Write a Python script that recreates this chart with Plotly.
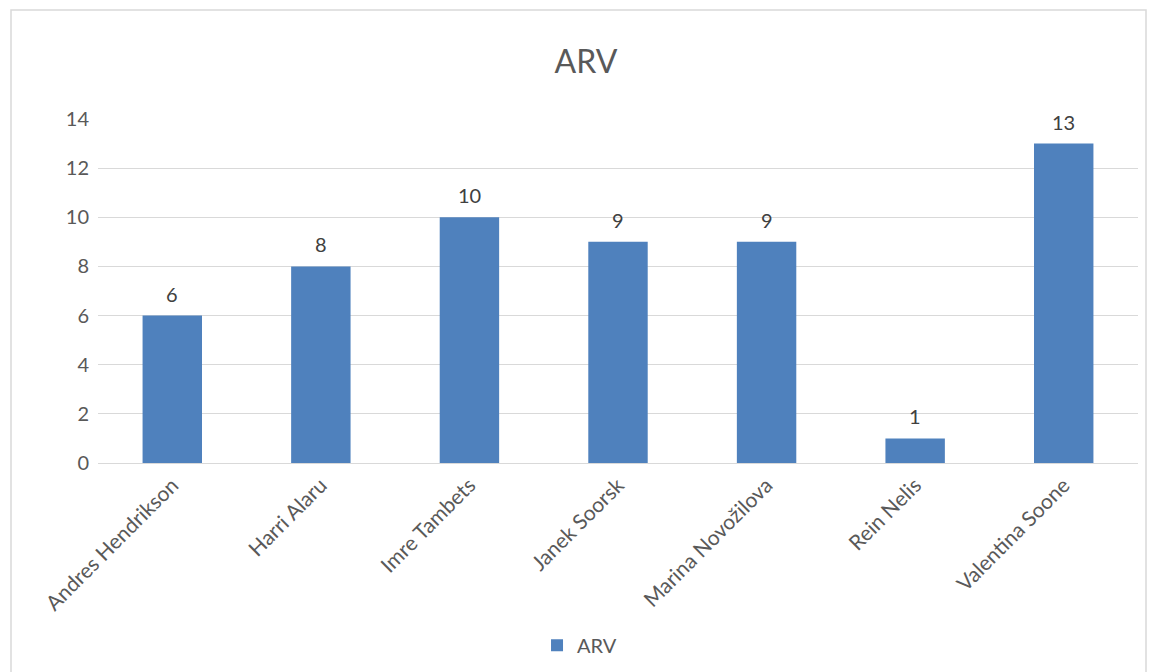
import plotly.graph_objects as go

categories = ["Andres Hendrikson", "Harri Alaru", "Imre Tambets", "Janek Soorsk",
              "Marina Novožilova", "Rein Nelis", "Valentina Soone"]
values = [6, 8, 10, 9, 9, 1, 13]
tick_vals = [0, 2, 4, 6, 8, 10, 12, 14]

FONT = "Lato, Carlito, 'Liberation Sans', sans-serif"
TXT = "#595959"

fig = go.Figure()
fig.add_trace(go.Bar(
    x=categories, y=values, name="ARV",
    marker=dict(color="#4F81BD", line=dict(width=0)),
    width=0.4,
))

for c, v in zip(categories, values):
    fig.add_annotation(x=c, y=v, text=str(v), showarrow=False, yshift=22,
                       font=dict(family=FONT, size=20, color="#404040"))

fig.update_layout(
    width=1154, height=672,
    margin=dict(l=98, r=16, t=119, b=209, autoexpand=False),
    paper_bgcolor="white", plot_bgcolor="white",
    font=dict(family=FONT, color=TXT, size=20),
    title=dict(text="ARV", x=586 / 1154, xref="container", xanchor="center",
               y=1 - 62 / 672, yanchor="middle",
               font=dict(family=FONT, size=32, color=TXT)),
    showlegend=True,
    legend=dict(orientation="h", x=0.463, xanchor="center", y=-0.53, yanchor="middle",
                font=dict(family=FONT, size=20, color=TXT)),
    xaxis=dict(tickangle=-45, showline=False, ticks="", showgrid=False,
               ticklabelstandoff=5, automargin=False,
               tickfont=dict(family=FONT, size=21, color=TXT)),
    yaxis=dict(range=[0, 14], tickvals=tick_vals, showgrid=True, gridcolor="#d9d9d9",
               gridwidth=1, zeroline=True, zerolinecolor="#d9d9d9", zerolinewidth=1,
               showline=False, ticks="", ticklabelstandoff=8, automargin=False,
               tickfont=dict(family=FONT, size=20, color=TXT)),
    bargap=0.6,
    shapes=[dict(type="rect", xref="paper", yref="paper",
                 x0=(11 - 98) / 1040, x1=(1146 - 98) / 1040,
                 y0=(463 - 690) / 344, y1=(463 - 10) / 344,
                 line=dict(color="#d9d9d9", width=1.5), fillcolor="rgba(0,0,0,0)",
                 layer="below")],
)

fig.write_html("out.html", config={"displayModeBar": False},
               post_script="document.body.style.margin='0';document.body.style.overflow='hidden';")
